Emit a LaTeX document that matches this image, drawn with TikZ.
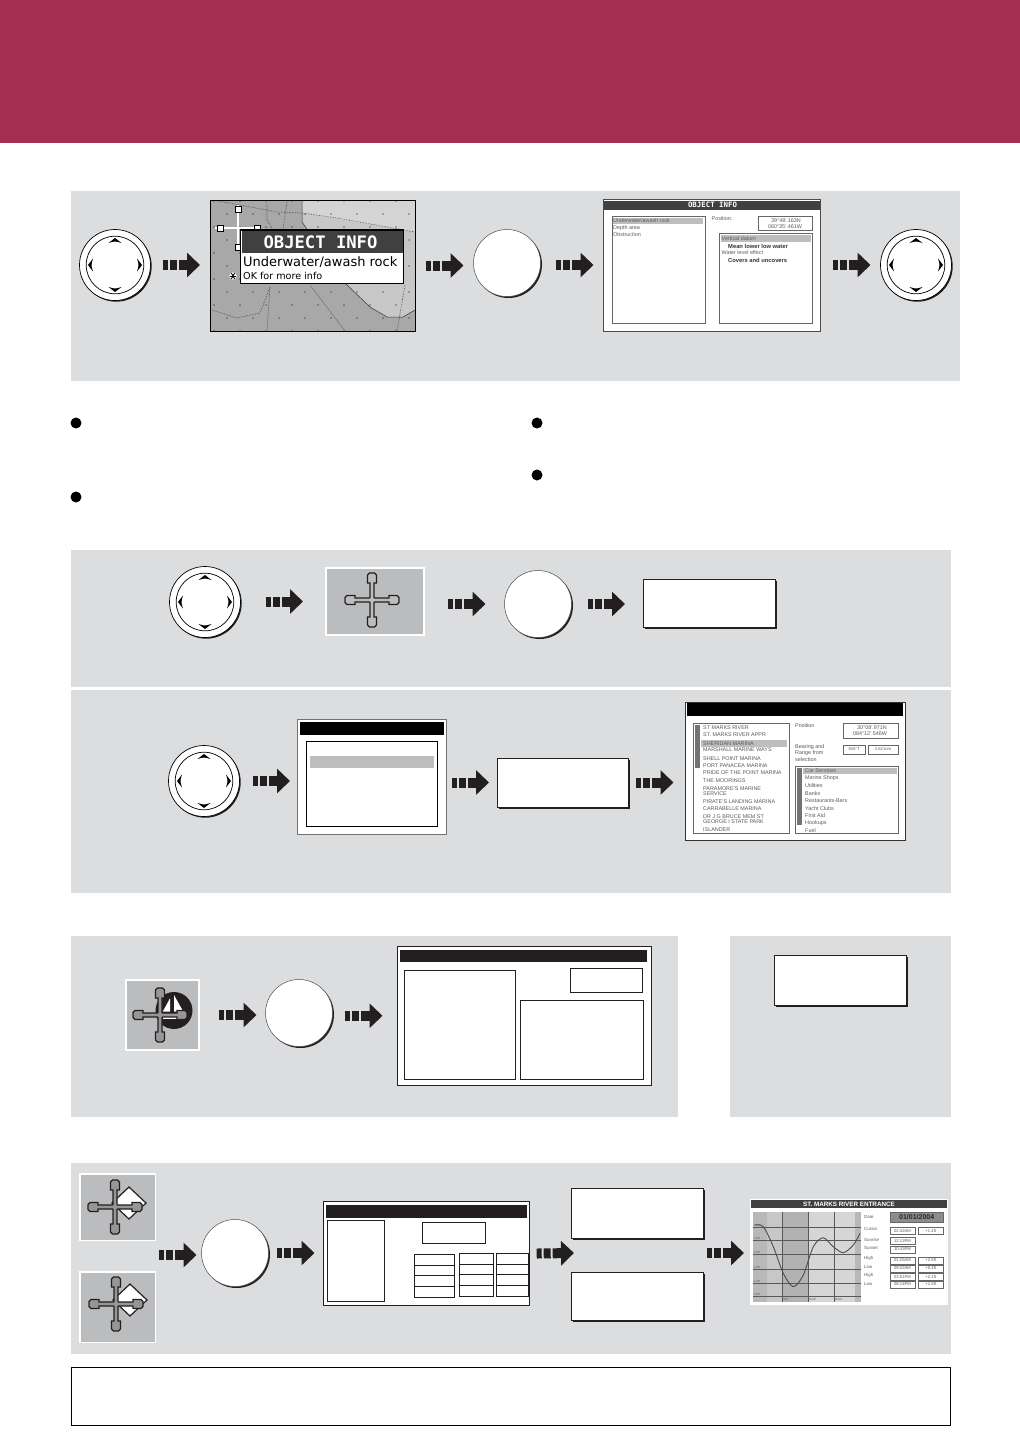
\documentclass[tikz,border=0pt]{standalone}
\usepackage{fontspec}
\setsansfont{Liberation Sans}
\newfontfamily\popfont{DejaVu Sans}
\newfontfamily\popmono{DejaVu Sans Mono}
\usetikzlibrary{shadows,
        arrows.meta,
        fit}
\definecolor{bandred}{RGB}{163,46,82}
\definecolor{panelgray}{RGB}{220,221,223}
\definecolor{icogray}{RGB}{187,188,190}
\definecolor{armgray}{RGB}{150,150,152}
\definecolor{hdrdark}{RGB}{64,64,64}
\definecolor{rowgray}{RGB}{190,190,190}
\definecolor{txtgray}{RGB}{90,90,90}
\definecolor{arrowblack}{RGB}{35,31,32}
\tikzset{
    panel/.style={inner sep=0,outer sep=0,fill=panelgray},
    bullet/.style={circle,fill=black,inner sep=0,minimum size=11pt},
    shadowbox/.style={inner sep=0,outer sep=0,draw=arrowblack,line width=.6pt,fill=white,
        drop shadow={shadow xshift=2pt,shadow yshift=-2pt,opacity=1,fill=arrowblack}},
    screen/.style={inner sep=0,outer sep=0,draw=black!70,line width=.6pt,fill=white},
    linescreen/.style={inner sep=0,outer sep=0,draw=arrowblack,line width=1pt,fill=white},
    icobox/.style={inner sep=0,outer sep=0,draw=white,line width=1.5pt,fill=icogray},
    okbtn/.style={circle,inner sep=0,outer sep=0,minimum size=67pt,draw=black!70,line width=.5pt,fill=white,
        drop shadow={shadow xshift=1.5pt,shadow yshift=-1.5pt,opacity=1,fill=arrowblack}},
    joydial/.style={circle,inner sep=0,outer sep=0,minimum size=71pt,draw=black,line width=.7pt,fill=white,
        drop shadow={shadow xshift=1.2pt,shadow yshift=-1.2pt,opacity=1,fill=arrowblack},
        path picture={
            \begin{scope}[shift={(path picture bounding box.center)}]
                \draw[black,line width=.7pt] (0,0) circle (28.8);
                \fill[black] (-6.5,-22) -- (0,-27) -- (6.5,-22) .. controls (0,-24) .. cycle
                    (-6.5,22) -- (0,27) -- (6.5,22) .. controls (0,24) .. cycle
                    (-22,-6.5) -- (-27,0) -- (-22,6.5) .. controls (-24,0) .. cycle
                    (22,-6.5) -- (27,0) -- (22,6.5) .. controls (24,0) .. cycle;
            \end{scope}
        }},
    blockarrow/.style={arrowblack,line width=10pt,dash pattern=on 5pt off 2pt on 7pt off 2pt on 60pt,
        -{Triangle[length=13pt,width=24pt]}},
    scrtxt/.style={anchor=west,inner sep=0,text=txtgray,font=\sffamily\fontsize{5.4}{6}\selectfont},
    scrcell/.style={inner sep=0,draw=black!60,line width=.35pt,fill=white,minimum height=7pt,text=txtgray,
        font=\sffamily\fontsize{4.2}{5}\selectfont},
    hdrtxt/.style={inner sep=0,text=white,font=\sffamily\bfseries\fontsize{6.3}{7}\selectfont},
    thinbox/.style={draw=black!60,line width=.5pt,fill=white},
    linebox/.style={draw=arrowblack,line width=1pt,fill=white},
    pics/cursor/.style={code={
        \foreach \ang in {0,90,180,270}
            \filldraw[draw=arrowblack,fill=#1,line width=1.3pt,rotate=\ang]
                (2,-2) -- (17,-2) -- (17,-4.5) -- (25,-4.5) -- (27,-2.5) -- (27,2.5) -- (25,4.5) -- (17,4.5) -- (17,2) -- (2,2);
        \fill[#1] (-2.1,-2.1) rectangle (2.1,2.1);
    }},
}
\begin{document}
\begin{tikzpicture}[x=1pt,y=-1pt]
    \useasboundingbox (0,0) rectangle (1020,1444);
    \fill[white] (0,0) rectangle (1020,1444);
    \node[panel,fill=bandred,fit={(0,0) (1020,143)}] (band) {};
    \node[panel,fit={(71,191) (960,381)}] (panel1) {};
    \node[panel,fit={(71,550) (951,687)}] (panel2) {};
    \node[panel,fit={(71,690) (951,893)}] (panel3) {};
    \node[panel,fit={(71,936) (678,1117)}] (panel4) {};
    \node[panel,fit={(730,936) (951,1117)}] (panel5) {};
    \node[panel,fit={(71,1163) (951,1354)}] (panel6) {};
    \node[inner sep=0,outer sep=0,draw=black,line width=.6pt,fill=white,fit={(71,1367) (950,1425)}] (note) {};

    \node[bullet] (bul1) at (76,423) {};
    \node[bullet] (bul2) at (76,497) {};
    \node[bullet] (bul3) at (537,423) {};
    \node[bullet] (bul4) at (537,475) {};

    \node[joydial] (joy1) at (115,265) {};
    \node[joydial] (joy2) at (916,265) {};
    \node[joydial] (joy3) at (205,602) {};
    \node[joydial] (joy4) at (204,781) {};
    \node[okbtn] (ok1) at (507,263) {};
    \node[okbtn] (ok2) at (538,604) {};
    \node[okbtn] (ok3) at (299,1013) {};
    \node[okbtn] (ok4) at (235,1253) {};

    \begin{scope}
        \clip (210,200) rectangle (415,331);
        \fill[black!34] (210,200) rectangle (415,331);
        \fill[black!22] (302,200) -- (302,222) -- (345,283) -- (370,307) -- (387,317) -- (403,317) -- (415,310) -- (415,200) -- cycle;
        \fill[black!17] (302,200) -- (302,213) -- (337,219) -- (415,232) -- (415,200) -- cycle;
        \draw[black!80,line width=.5pt] (302,200) -- (302,222) -- (345,283) -- (370,307) -- (387,317) -- (403,317) -- (415,310);
        \foreach \r in {0,1,...,10}
            \foreach \c in {0,1,...,8} {
                \pgfmathsetmacro{\dotx}{214+26*\c+13*mod(\r,2)}
                \pgfmathsetmacro{\doty}{201+13*\r}
                \fill[black] (\dotx,\doty) circle (.6);
            }
        \draw[black!75,densely dotted,line width=.6pt] (218,201) -- (240,205) -- (277,212) -- (303,213) -- (337,218) -- (415,232);
        \draw[black!75,densely dotted,line width=.6pt] (267,203) -- (267,220) -- (273,230);
        \draw[black!75,densely dotted,line width=.6pt] (287,202) -- (283,229);
        \draw[black!75,densely dotted,line width=.6pt] (405,285) -- (397,331);
        \draw[black!75,densely dotted,line width=.6pt] (212,310) -- (237,318) -- (260,313) -- (270,287) -- (267,331);
        \draw[black!55,line width=.5pt] (310,285) -- (345,331);
    \end{scope}
    \node[inner sep=0,outer sep=0,draw=black,line width=.7pt,fit={(210,200) (415,331)}] (map1) {};
    \draw[black,line width=2.6pt] (215,228) -- (261,228);
    \draw[black,line width=2.6pt] (238,205) -- (238,251);
    \draw[white,line width=1.1pt] (215,228) -- (261,228);
    \draw[white,line width=1.1pt] (238,205) -- (238,251);
    \foreach \cx/\cy in {220/228,257/228,238/209,238/247}
        \filldraw[draw=black,fill=white,line width=.7pt] (\cx-3,\cy-3) rectangle (\cx+3,\cy+3);
    \fill[white] (233,276) circle (3.6);
    \foreach \ang in {0,60,120}
        \draw[black,line width=.9pt,rotate around={\ang:(233,276)}] (229.8,276) -- (236.2,276);
    \node[inner sep=0,outer sep=0,draw=black,line width=1.8pt,fill=white,fit={(240.5,230) (403.5,283.5)}] (pop1) {};
    \fill[hdrdark] (241.5,231) rectangle (402.5,252.5);
    \node[inner sep=0,text=white,font=\popmono\bfseries\fontsize{17.2}{18}\selectfont] (pop1head) at (320.5,242) {OBJECT INFO};
    \node[anchor=west,inner sep=0,font=\popfont\fontsize{13}{14}\selectfont] (pop1line) at (243,262.5) {Underwater/awash rock};
    \node[anchor=west,inner sep=0,font=\popfont\fontsize{9.6}{10}\selectfont] (pop1ok) at (243,276) {OK for more info};

    \node[screen,fit={(603.5,199) (820,331)}] (scr1) {};
    \fill[hdrdark] (604,200.5) rectangle (820,209.5);
    \node[hdrtxt,font=\popmono\bfseries\fontsize{7.4}{8}\selectfont] (scr1head) at (712.5,205) {OBJECT INFO};
    \draw[thinbox] (612,216) rectangle (705,323);
    \fill[rowgray] (613,218) rectangle (703,224);
    \foreach \y/\t [count=\i] in {221/{Underwater/awash rock},227.7/Depth area,235/Obstruction}
        \node[scrtxt] (scr1list\i) at (613,\y) {\t};
    \node[scrtxt] (scr1pos) at (711.5,219) {Position:};
    \draw[thinbox] (758,216) rectangle (812.5,230.5);
    \node[scrtxt,anchor=center] (scr1lat) at (786,220.5) {39°48'.163N};
    \node[scrtxt,anchor=center] (scr1lon) at (785,226.7) {060°35'.461W};
    \draw[thinbox] (719,233.5) rectangle (812.5,323);
    \fill[rowgray] (720.5,234.5) rectangle (811,241.5);
    \node[scrtxt] (scr1dat) at (721.5,238.5) {Vertical datum};
    \node[scrtxt,text=black!80,font=\sffamily\bfseries\fontsize{5.8}{6}\selectfont] (scr1low) at (728,246) {Mean lower low water};
    \node[scrtxt] (scr1eff) at (721.5,252.7) {Water level effect};
    \node[scrtxt,text=black!80,font=\sffamily\bfseries\fontsize{5.8}{6}\selectfont] (scr1cov) at (728,260) {Covers and uncovers};

    \node[icobox,fit={(326,568) (424,635)}] (cur1) {};
    \pic at (372,600) {cursor=icogray};
    \node[shadowbox,fit={(643,579) (775,627)}] (box1) {};

    \node[screen,draw=black!55,fit={(297,719) (446,834)}] (scr3) {};
    \fill[black] (300,722) rectangle (444,735);
    \node[inner sep=0,outer sep=0,draw=black,line width=.5pt,fill=white,fit={(306,741) (437,826)}] (scr3list) {};
    \fill[rowgray] (310,756) rectangle (434,768);
    \node[shadowbox,fit={(497,758) (628,807)}] (box2) {};

    \node[inner sep=0,outer sep=0,draw=black!80,line width=.7pt,fill=white,fit={(685.5,702) (905.5,840.5)}] (scr4) {};
    \fill[black] (687,702.5) rectangle (902.5,716);
    \draw[thinbox] (693,723) rectangle (789,833);
    \fill[black!55] (695,725) rectangle (700,768);
    \fill[rowgray] (701,740) rectangle (787,747);
    \foreach \y/\t [count=\i] in {727.7/ST MARKS RIVER,735/ST. MARKS RIVER APPR,743.3/SHERIDAN MARINA,750/MARSHALL MARINE WAYS,758.3/SHELL POINT MARINA,765.3/PORT PANACEA MARINA,772.3/PRIDE OF THE POINT MARINA,780.3/THE MOORINGS,788.3/PARAMORE'S MARINE,794/SERVICE,801.7/PIRATE'S LANDING MARINA,809/CARRABELLE MARINA,816.3/DR J G BRUCE MEM ST,822/GEORGE I STATE PARK,830/ISLANDER}
        \node[scrtxt] (scr4left\i) at (703,\y) {\t};
    \node[scrtxt] (scr4pos) at (795,726) {Position};
    \draw[thinbox] (843.5,723.5) rectangle (898.5,738.5);
    \node[scrtxt,anchor=center] (scr4lat) at (872,727.5) {30°08'.971N};
    \node[scrtxt,anchor=center] (scr4lon) at (870,734) {084°12'.546W};
    \foreach \y/\t [count=\i] in {747.3/Bearing and,753.5/Range from,760/selection}
        \node[scrtxt] (scr4brg\i) at (795,\y) {\t};
    \node[scrcell,minimum width=22pt,minimum height=9pt] (scr4deg) at (854,749.5) {355°T};
    \node[scrcell,minimum width=30pt,minimum height=9pt] (scr4rng) at (883,749.5) {2.621nm};
    \draw[thinbox] (795,766) rectangle (898,833);
    \fill[black!55] (797,768) rectangle (802,825);
    \fill[rowgray] (803,768) rectangle (897,774);
    \foreach \y/\t [count=\i] in {770.7/Car Services,778.3/Marine Shops,786/Utilities,793.3/Banks,801/Restaurants-Bars,809/Yacht Clubs,815.7/First Aid,823.3/Hookups,830.7/Fuel}
        \node[scrtxt] (scr4right\i) at (805,\y) {\t};

    \node[icobox,fit={(126,980) (199,1050)}] (ico1) {};
    \fill[arrowblack] (174,1010.5) circle (18.5);
    \fill[white] (170,998.3) -- (170,1011.7) -- (162.7,1011.7) -- cycle;
    \fill[white] (174,995) -- (183.3,1011.7) -- (174,1011.7) -- cycle;
    \fill[white] (163,1017.3) rectangle (183.5,1019.3);
    \pic at (160,1015) {cursor=armgray};

    \node[linescreen,fit={(397.5,946.5) (651,1085)}] (scr5) {};
    \fill[arrowblack] (400,950) rectangle (647,962);
    \draw[linebox] (404,970) rectangle (515,1079);
    \draw[linebox] (570,968) rectangle (642,992);
    \draw[linebox] (520,1000) rectangle (643,1079);

    \node[shadowbox,fit={(774,955) (906,1005)}] (box3) {};

    \node[icobox,fit={(80,1174) (155.5,1240.5)}] (ico2) {};
    \node[icobox,fit={(80,1272) (155.5,1342.5)}] (ico3) {};
    \foreach \px/\py in {115/1207,116/1304} {
        \filldraw[draw=arrowblack,fill=white,line width=1.2pt] (\px+14,\py-20) -- (\px+31,\py-4) -- (\px+14,\py+12) -- (\px-3,\py-4) -- cycle;
        \pic at (\px,\py) {cursor=armgray};
    }
    \coordinate (ico23) at (155,1255);

    \node[linescreen,fit={(323.5,1201.7) (529.7,1305.5)}] (scr6) {};
    \fill[arrowblack] (326,1205) rectangle (527,1217.5);
    \draw[linebox] (327.3,1220.5) rectangle (384.5,1301.3);
    \draw[linebox] (422.3,1222.3) rectangle (485.7,1243.3);
    \foreach \ty/\tz in {1254.3/1265,1265/1275.3,1275.3/1286.3,1286.3/1297.3}
        \draw[arrowblack,line width=1pt] (414.3,\ty) rectangle (454.3,\tz);
    \foreach \tx/\tw in {459.3/493.3,496.3/528.5}
        \foreach \ty/\tz in {1253.3/1264.3,1264.3/1274.3,1274.3/1285.3,1285.3/1296.3}
            \draw[arrowblack,line width=1pt] (\tx,\ty) rectangle (\tw,\tz);

    \node[shadowbox,fit={(571,1188) (703,1238)}] (box4) {};
    \node[shadowbox,fit={(571,1272) (703,1320)}] (box5) {};
    \coordinate (join1) at (574,1253);
    \coordinate (join2) at (703,1253);

    \node[inner sep=0,outer sep=0,fill=white,fit={(750,1199) (948,1305)}] (tide) {};
    \fill[hdrdark] (751,1200) rectangle (947,1207.5);
    \node[hdrtxt] (tidehead) at (849,1204) {ST. MARKS RIVER ENTRANCE};
    \fill[black!28] (753,1212) rectangle (861,1302);
    \fill[black!22] (767,1212) rectangle (782,1302);
    \fill[black!30] (782,1212) rectangle (808,1302);
    \fill[black!16] (808,1212) rectangle (855,1302);
    \foreach \lx in {782,808,834}
        \draw[black!65,line width=.5pt] (\lx,1212) -- (\lx,1302);
    \foreach \ly in {1227,1240,1254,1269,1283,1296}
        \draw[black!65,line width=.5pt] (753,\ly) -- (861,\ly);
    \foreach \y/\t [count=\i] in {1225/5.0ft,1238.5/4.0ft,1252.5/3.0ft,1267.5/2.0ft,1281/1.0ft,1294.5/0.0ft}
        \node[scrtxt,font=\sffamily\fontsize{3}{3}\selectfont] (tideax\i) at (754,\y) {\t};
    \foreach \x/\t [count=\i] in {785/6:00,812/12:00,838/18:00}
        \node[scrtxt,anchor=center,font=\sffamily\fontsize{3}{3}\selectfont] (tidetm\i) at (\x,1299.5) {\t};
    \draw[black!70,line width=.9pt] plot[smooth] coordinates {(755,1225) (763.3,1226.7) (773.3,1246.7) (783.3,1273.3) (793.3,1286.7) (803.3,1275) (813.3,1246.7) (823.3,1237.7) (833.3,1246.7) (843.3,1252.7) (853.3,1245) (860,1233.3)};
    \foreach \y/\t [count=\i] in {1216.7/Date,1229/Cursor,1240/Sunrise,1248.3/Sunset,1258.3/High,1266.7/Low,1275.7/High,1284/Low}
        \node[scrtxt,font=\sffamily\fontsize{4.4}{5}\selectfont] (tidelab\i) at (864,\y) {\t};
    \node[scrcell,fill=black!45,minimum width=53pt,minimum height=10pt,text=black!85,font=\sffamily\bfseries\fontsize{7}{8}\selectfont] (tidedate) at (916.7,1216.7) {01/01/2004};
    \foreach \y/\t [count=\i] in {1230.8/02:42AM,1240.8/12:12PM,1249.5/10:43PM,1260.2/01:25AM,1268.3/09:32AM,1276.7/03:51PM,1284.3/08:14PM}
        \node[scrcell,minimum width=25pt] (tidetime\i) at (902.5,\y) {\t};
    \foreach \y/\t [count=\i] in {1230.8/+1.4ft,1260.2/+2.5ft,1268.3/+0.4ft,1276.7/+2.1ft,1284.3/+1.5ft}
        \node[scrcell,minimum width=25pt] (tidelvl\i) at (930.8,\y) {\t};

    \draw[blockarrow,shorten <=12pt,shorten >=10pt] (joy1.east) -- (joy1.east -| map1.west);
    \draw[blockarrow,shorten <=11pt,shorten >=10pt] (map1.east) -- (map1.east -| ok1.west);
    \draw[blockarrow,shorten <=15pt,shorten >=10pt] (ok1.east |- scr1.west) -- (scr1.west);
    \draw[blockarrow,shorten <=13pt,shorten >=10pt] (scr1.east) -- (joy2.west);
    \draw[blockarrow,shorten <=25pt,shorten >=23pt] (joy3.east |- cur1.west) -- (cur1.west);
    \draw[blockarrow,shorten <=24pt,shorten >=19pt] (cur1.east |- ok2.west) -- (ok2.west);
    \draw[blockarrow,shorten <=16pt,shorten >=18pt] (ok2.east) -- (ok2.east -| box1.west);
    \draw[blockarrow,shorten <=13pt,shorten >=7pt] (joy4.east) -- (joy4.east -| scr3.west);
    \draw[blockarrow,shorten <=6pt,shorten >=8pt] (scr3.east |- box2.west) -- (box2.west);
    \draw[blockarrow,shorten <=8pt,shorten >=12pt] (box2.east) -- (box2.east -| scr4.west);
    \draw[blockarrow,shorten <=20pt,shorten >=9pt] (ico1.east) -- (ico1.east -| ok3.west);
    \draw[blockarrow,shorten <=12pt,shorten >=15pt] (ok3.east |- scr5.west) -- (scr5.west);
    \draw[blockarrow,shorten <=4pt,shorten >=5pt] (ico23) -- (ico23 -| ok4.west);
    \draw[blockarrow,shorten <=8pt,shorten >=9pt] (ok4.east) -- (ok4.east -| scr6.west);
    \draw[blockarrow,shorten <=7pt] (scr6.east) -- (join1);
    \draw[blockarrow,shorten <=4pt,shorten >=6pt] (join2) -- (join2 -| tide.west);
\end{tikzpicture}
\end{document}
